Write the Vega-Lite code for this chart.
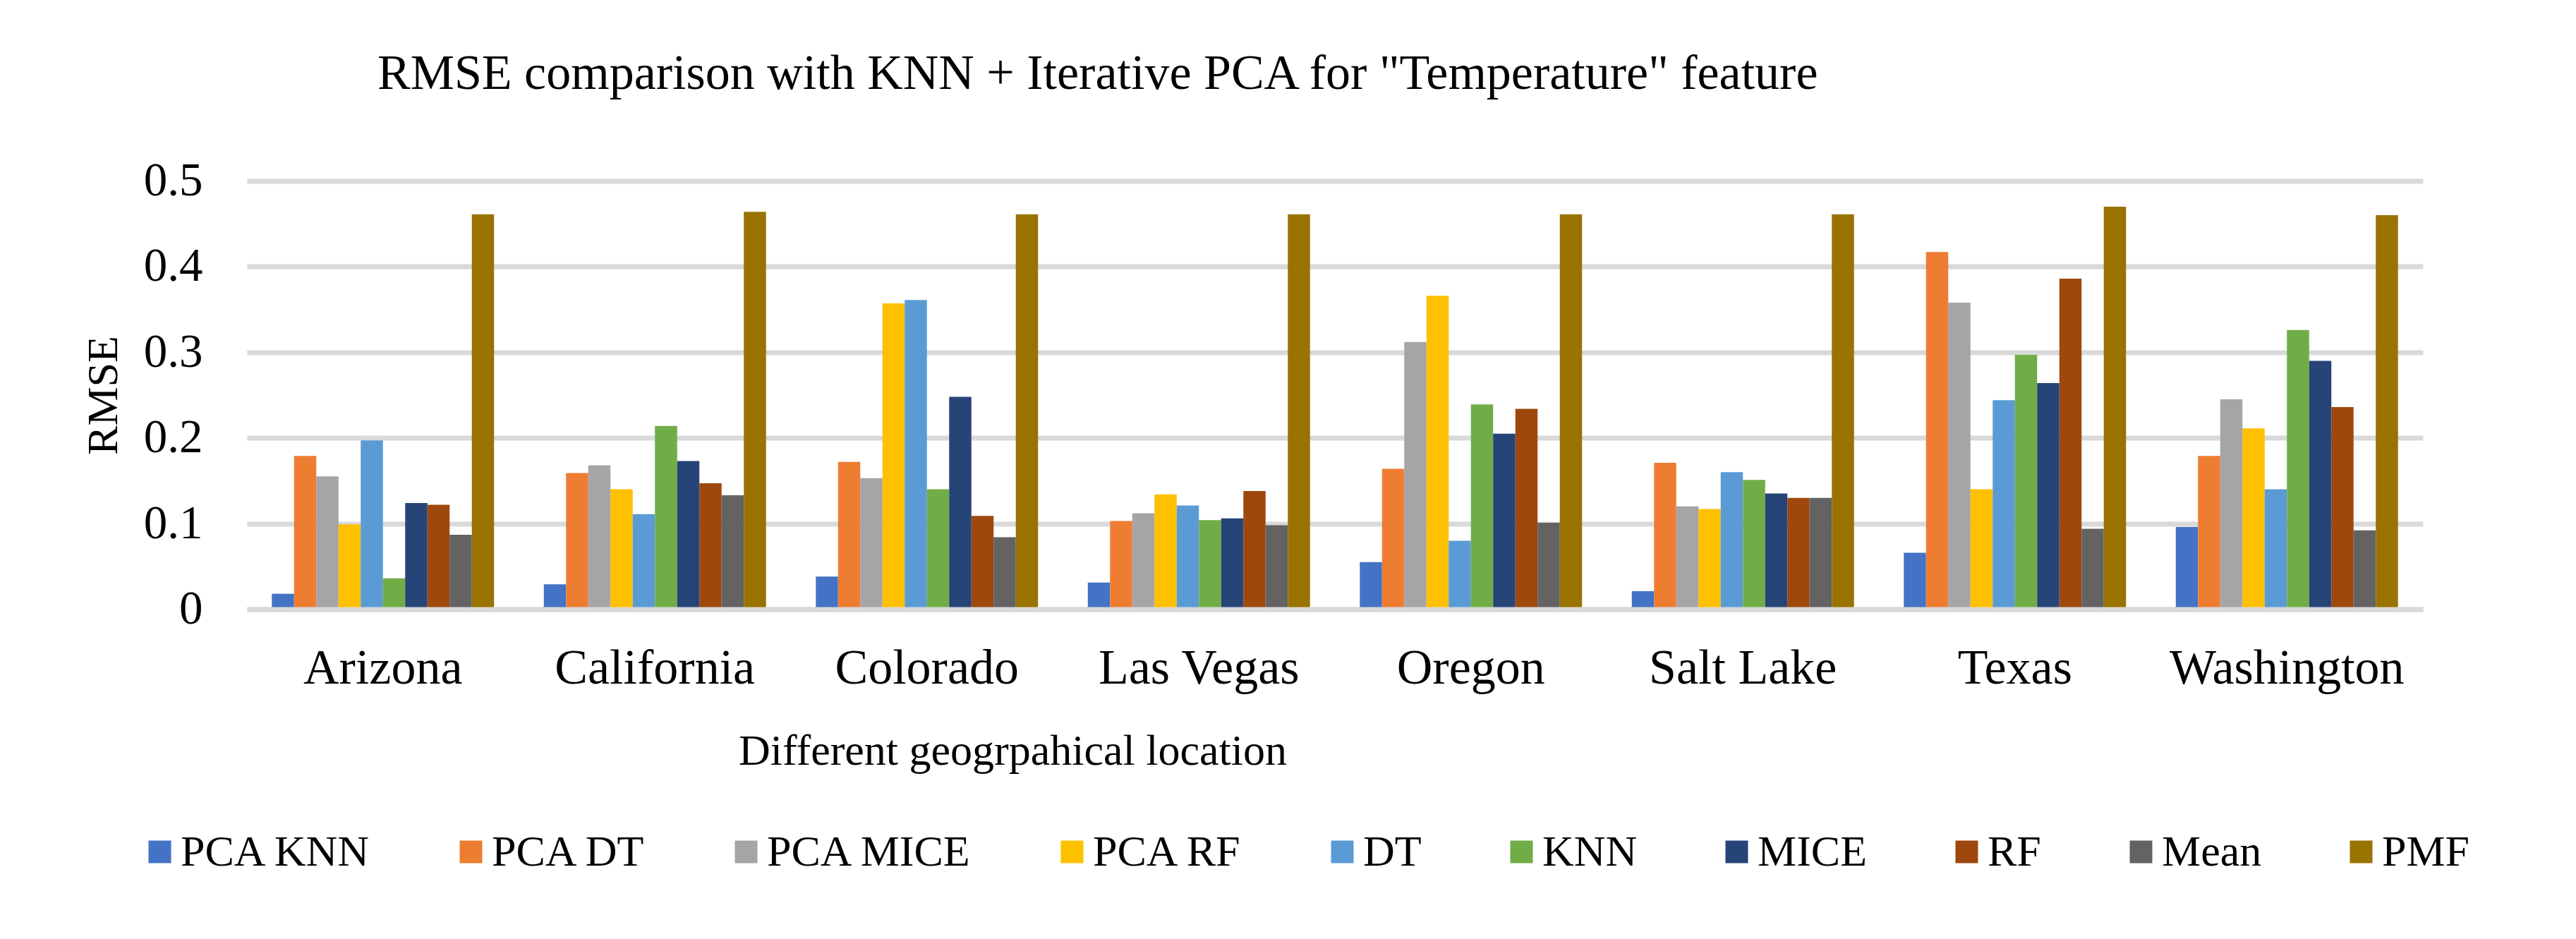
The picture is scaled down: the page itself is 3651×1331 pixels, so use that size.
{
  "$schema": "https://vega.github.io/schema/vega-lite/v6.json",
  "autosize": {"type": "none"},
  "padding": {"left": 350, "top": 256.5, "right": 217, "bottom": 467.5},
  "width": 3084,
  "height": 607,
  "background": "white",
  "title": {
    "text": "RMSE comparison with KNN + Iterative PCA for \"Temperature\" feature",
    "anchor": "start",
    "frame": "group",
    "dx": 185,
    "offset": 27,
    "baseline": "alphabetic",
    "font": "Liberation Serif",
    "fontSize": 70,
    "fontWeight": "normal",
    "color": "#000000"
  },
  "data": {
    "values": [
      {"loc": "Arizona", "method": "PCA KNN", "rmse": 0.018},
      {"loc": "Arizona", "method": "PCA DT", "rmse": 0.179},
      {"loc": "Arizona", "method": "PCA MICE", "rmse": 0.155},
      {"loc": "Arizona", "method": "PCA RF", "rmse": 0.099},
      {"loc": "Arizona", "method": "DT", "rmse": 0.197},
      {"loc": "Arizona", "method": "KNN", "rmse": 0.036},
      {"loc": "Arizona", "method": "MICE", "rmse": 0.124},
      {"loc": "Arizona", "method": "RF", "rmse": 0.122},
      {"loc": "Arizona", "method": "Mean", "rmse": 0.087},
      {"loc": "Arizona", "method": "PMF", "rmse": 0.461},
      {"loc": "California", "method": "PCA KNN", "rmse": 0.029},
      {"loc": "California", "method": "PCA DT", "rmse": 0.159},
      {"loc": "California", "method": "PCA MICE", "rmse": 0.168},
      {"loc": "California", "method": "PCA RF", "rmse": 0.140},
      {"loc": "California", "method": "DT", "rmse": 0.111},
      {"loc": "California", "method": "KNN", "rmse": 0.214},
      {"loc": "California", "method": "MICE", "rmse": 0.173},
      {"loc": "California", "method": "RF", "rmse": 0.147},
      {"loc": "California", "method": "Mean", "rmse": 0.133},
      {"loc": "California", "method": "PMF", "rmse": 0.464},
      {"loc": "Colorado", "method": "PCA KNN", "rmse": 0.038},
      {"loc": "Colorado", "method": "PCA DT", "rmse": 0.172},
      {"loc": "Colorado", "method": "PCA MICE", "rmse": 0.153},
      {"loc": "Colorado", "method": "PCA RF", "rmse": 0.357},
      {"loc": "Colorado", "method": "DT", "rmse": 0.361},
      {"loc": "Colorado", "method": "KNN", "rmse": 0.140},
      {"loc": "Colorado", "method": "MICE", "rmse": 0.248},
      {"loc": "Colorado", "method": "RF", "rmse": 0.109},
      {"loc": "Colorado", "method": "Mean", "rmse": 0.084},
      {"loc": "Colorado", "method": "PMF", "rmse": 0.461},
      {"loc": "Las Vegas", "method": "PCA KNN", "rmse": 0.031},
      {"loc": "Las Vegas", "method": "PCA DT", "rmse": 0.103},
      {"loc": "Las Vegas", "method": "PCA MICE", "rmse": 0.112},
      {"loc": "Las Vegas", "method": "PCA RF", "rmse": 0.134},
      {"loc": "Las Vegas", "method": "DT", "rmse": 0.121},
      {"loc": "Las Vegas", "method": "KNN", "rmse": 0.104},
      {"loc": "Las Vegas", "method": "MICE", "rmse": 0.106},
      {"loc": "Las Vegas", "method": "RF", "rmse": 0.138},
      {"loc": "Las Vegas", "method": "Mean", "rmse": 0.098},
      {"loc": "Las Vegas", "method": "PMF", "rmse": 0.461},
      {"loc": "Oregon", "method": "PCA KNN", "rmse": 0.055},
      {"loc": "Oregon", "method": "PCA DT", "rmse": 0.164},
      {"loc": "Oregon", "method": "PCA MICE", "rmse": 0.312},
      {"loc": "Oregon", "method": "PCA RF", "rmse": 0.366},
      {"loc": "Oregon", "method": "DT", "rmse": 0.080},
      {"loc": "Oregon", "method": "KNN", "rmse": 0.239},
      {"loc": "Oregon", "method": "MICE", "rmse": 0.205},
      {"loc": "Oregon", "method": "RF", "rmse": 0.234},
      {"loc": "Oregon", "method": "Mean", "rmse": 0.101},
      {"loc": "Oregon", "method": "PMF", "rmse": 0.461},
      {"loc": "Salt Lake", "method": "PCA KNN", "rmse": 0.021},
      {"loc": "Salt Lake", "method": "PCA DT", "rmse": 0.171},
      {"loc": "Salt Lake", "method": "PCA MICE", "rmse": 0.120},
      {"loc": "Salt Lake", "method": "PCA RF", "rmse": 0.117},
      {"loc": "Salt Lake", "method": "DT", "rmse": 0.160},
      {"loc": "Salt Lake", "method": "KNN", "rmse": 0.151},
      {"loc": "Salt Lake", "method": "MICE", "rmse": 0.135},
      {"loc": "Salt Lake", "method": "RF", "rmse": 0.130},
      {"loc": "Salt Lake", "method": "Mean", "rmse": 0.130},
      {"loc": "Salt Lake", "method": "PMF", "rmse": 0.461},
      {"loc": "Texas", "method": "PCA KNN", "rmse": 0.066},
      {"loc": "Texas", "method": "PCA DT", "rmse": 0.417},
      {"loc": "Texas", "method": "PCA MICE", "rmse": 0.358},
      {"loc": "Texas", "method": "PCA RF", "rmse": 0.140},
      {"loc": "Texas", "method": "DT", "rmse": 0.244},
      {"loc": "Texas", "method": "KNN", "rmse": 0.297},
      {"loc": "Texas", "method": "MICE", "rmse": 0.264},
      {"loc": "Texas", "method": "RF", "rmse": 0.386},
      {"loc": "Texas", "method": "Mean", "rmse": 0.094},
      {"loc": "Texas", "method": "PMF", "rmse": 0.470},
      {"loc": "Washington", "method": "PCA KNN", "rmse": 0.096},
      {"loc": "Washington", "method": "PCA DT", "rmse": 0.179},
      {"loc": "Washington", "method": "PCA MICE", "rmse": 0.245},
      {"loc": "Washington", "method": "PCA RF", "rmse": 0.211},
      {"loc": "Washington", "method": "DT", "rmse": 0.140},
      {"loc": "Washington", "method": "KNN", "rmse": 0.326},
      {"loc": "Washington", "method": "MICE", "rmse": 0.290},
      {"loc": "Washington", "method": "RF", "rmse": 0.236},
      {"loc": "Washington", "method": "Mean", "rmse": 0.092},
      {"loc": "Washington", "method": "PMF", "rmse": 0.460}
    ]
  },
  "mark": {"type": "bar"},
  "encoding": {
    "x": {
      "field": "loc",
      "type": "nominal",
      "sort": ["Arizona", "California", "Colorado", "Las Vegas", "Oregon", "Salt Lake", "Texas", "Washington"],
      "scale": {"paddingInner": 0.183, "paddingOuter": 0.0915},
      "axis": {
        "title": "Different geogrpahical location",
        "titleFont": "Liberation Serif",
        "titleFontSize": 62,
        "titleFontWeight": "normal",
        "titleColor": "#000000",
        "titleX": 1085,
        "titleY": 219.5,
        "titleAlign": "center",
        "titleBaseline": "alphabetic",
        "labelFont": "Liberation Serif",
        "labelFontSize": 70,
        "labelColor": "#000000",
        "labelAngle": 0,
        "labelBaseline": "alphabetic",
        "labelPadding": 104.5,
        "labelLimit": 1000,
        "ticks": false,
        "tickSize": 0,
        "domain": true,
        "domainColor": "#d9d9d9",
        "domainWidth": 7,
        "grid": false,
        "zindex": 1
      }
    },
    "xOffset": {
      "field": "method",
      "type": "nominal",
      "sort": ["PCA KNN", "PCA DT", "PCA MICE", "PCA RF", "DT", "KNN", "MICE", "RF", "Mean", "PMF"],
      "scale": {"paddingInner": 0, "paddingOuter": 0}
    },
    "y": {
      "field": "rmse",
      "type": "quantitative",
      "scale": {"domain": [0, 0.5], "nice": false, "zero": true},
      "axis": {
        "title": "RMSE",
        "titleFont": "Liberation Serif",
        "titleFontSize": 62,
        "titleFontWeight": "normal",
        "titleColor": "#000000",
        "titleX": -185,
        "titleY": 303.5,
        "titleAngle": -90,
        "titleAlign": "center",
        "titleBaseline": "alphabetic",
        "values": [0, 0.1, 0.2, 0.3, 0.4, 0.5],
        "format": ".1~f",
        "labelFont": "Liberation Serif",
        "labelFontSize": 67,
        "labelColor": "#000000",
        "labelPadding": 63,
        "labelBaseline": "middle",
        "ticks": false,
        "tickSize": 0,
        "domain": false,
        "grid": true,
        "gridColor": "#d9d9d9",
        "gridWidth": 7
      }
    },
    "color": {
      "field": "method",
      "type": "nominal",
      "sort": ["PCA KNN", "PCA DT", "PCA MICE", "PCA RF", "DT", "KNN", "MICE", "RF", "Mean", "PMF"],
      "scale": {
        "domain": ["PCA KNN", "PCA DT", "PCA MICE", "PCA RF", "DT", "KNN", "MICE", "RF", "Mean", "PMF"],
        "range": ["#4472C4", "#ED7D31", "#A5A5A5", "#FFC000", "#5B9BD5", "#70AD47", "#264478", "#9E480E", "#636363", "#997300"]
      },
      "legend": {
        "title": null,
        "orient": "none",
        "legendX": -154.5,
        "legendY": 920,
        "direction": "horizontal",
        "columns": 10,
        "columnPadding": 110,
        "padding": 0,
        "symbolType": "square",
        "symbolSize": 1024,
        "symbolStrokeWidth": 0,
        "symbolOpacity": 1,
        "labelFont": "Liberation Serif",
        "labelFontSize": 62,
        "labelColor": "#000000",
        "labelOffset": -1.5,
        "labelLimit": 1000,
        "labelBaseline": "middle"
      }
    }
  },
  "config": {
    "view": {"stroke": null},
    "axis": {"labelOverlap": false}
  }
}
